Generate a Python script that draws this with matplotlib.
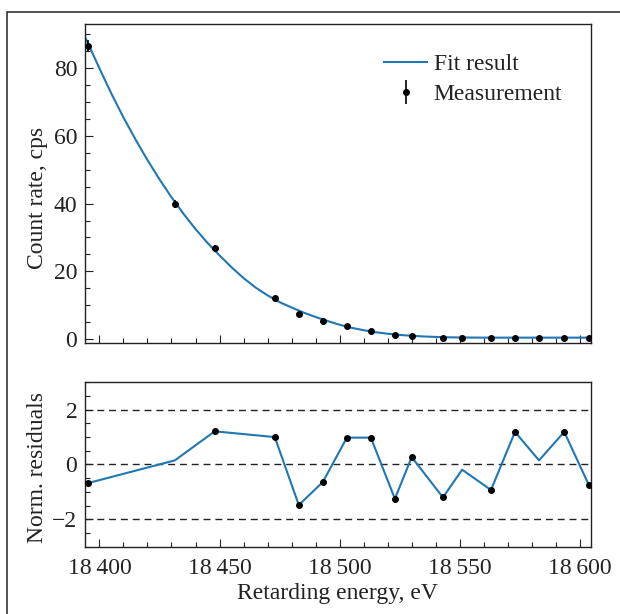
#!/usr/bin/env python3
import matplotlib
matplotlib.use("Agg")
import matplotlib.pyplot as plt
from matplotlib.ticker import MultipleLocator, FuncFormatter
from matplotlib.patches import Rectangle

# measured points (retarding energy in eV, count rate in cps)
energy = [18395.2, 18431.4, 18448.0, 18473.0, 18483.0, 18493.0, 18503.0, 18513.0,
          18523.0, 18530.0, 18543.0, 18551.0, 18563.0, 18573.0, 18583.0, 18593.5, 18603.7]
rate = [86.7, 40.0, 27.0, 12.2, 7.5, 5.2, 3.7, 2.3, 1.2, 0.9, 0.38, 0.42, 0.37,
        0.42, 0.38, 0.40, 0.37]
rate_err = [1.6, 1.2, 0.8, 0.5, 0.4, 0.35, 0.3, 0.25, 0.2, 0.15, 0.1, 0.1, 0.1,
            0.1, 0.1, 0.1, 0.1]

# fit curve
fit_energy = [18394, 18400, 18405, 18410, 18415, 18420, 18425, 18430, 18435, 18440,
              18445, 18450, 18455, 18460, 18465, 18470, 18475, 18480, 18485, 18490,
              18495, 18500, 18505, 18510, 18515, 18520, 18525, 18530, 18535, 18540,
              18545, 18550, 18560, 18570, 18580, 18590, 18600, 18605]
fit_rate = [89.3, 80.0, 72.5, 65.5, 59.0, 52.9, 47.2, 41.9, 37.0, 32.5,
            28.4, 24.7, 21.2, 18.0, 15.2, 12.9, 10.9, 9.3, 7.8, 6.5,
            5.3, 4.2, 3.3, 2.6, 2.0, 1.55, 1.2, 0.95, 0.75, 0.6,
            0.5, 0.45, 0.4, 0.4, 0.4, 0.4, 0.4, 0.4]

# normalised residuals, and which of them are drawn with a dot
resid = [-0.68, 0.15, 1.21, 1.0, -1.48, -0.64, 0.98, 0.98, -1.25, 0.27, -1.2,
         -0.19, -0.93, 1.19, 0.15, 1.19, -0.74]
resid_dot = [1, 0, 1, 1, 1, 1, 1, 1, 1, 1, 1, 0, 1, 1, 0, 1, 1]

BLUE = "#1f77b4"
INK = "#222222"

plt.rcParams["font.family"] = ["Liberation Serif", "DejaVu Serif"]
plt.rcParams["font.size"] = 17
plt.rcParams["text.color"] = INK
plt.rcParams["axes.labelcolor"] = INK
plt.rcParams["xtick.color"] = INK
plt.rcParams["ytick.color"] = INK
plt.rcParams["axes.edgecolor"] = INK
plt.rcParams["axes.linewidth"] = 1.0


def style_ticks(ax):
    ax.tick_params(which="both", direction="in", top=False, right=False, width=0.8)
    ax.tick_params(which="major", length=6)
    ax.tick_params(which="minor", length=3.5)
    ax.tick_params(axis="x", which="major", pad=8)
    ax.tick_params(axis="y", which="major", pad=5.5)
    ax.xaxis.set_major_locator(MultipleLocator(50))
    ax.xaxis.set_minor_locator(MultipleLocator(10))


fig = plt.figure(figsize=(6.2, 6.14), dpi=100)
ax1 = fig.add_axes([0.1371, 0.4409, 0.8156, 0.5200])
ax2 = fig.add_axes([0.1371, 0.1096, 0.8156, 0.2678], sharex=ax1)

# top panel
ax1.plot(fit_energy, fit_rate, color=BLUE, lw=1.5, label="Fit result", zorder=2)
ax1.errorbar(energy, rate, yerr=rate_err, fmt="o", color="black", ms=4,
             elinewidth=1.2, capsize=0, label="Measurement", zorder=3)
ax1.set_xlim(18394, 18604.5)
ax1.set_ylim(-1.27, 93.1)
ax1.yaxis.set_major_locator(MultipleLocator(20))
ax1.yaxis.set_minor_locator(MultipleLocator(5))
style_ticks(ax1)
ax1.tick_params(labelbottom=False)
ax1.set_ylabel("Count rate, cps")
ax1.yaxis.set_label_coords(-0.074, 0.456)
ax1.legend(loc="upper right", bbox_to_anchor=(0.986, 0.975), frameon=False,
           handlelength=1.8, handletextpad=0.3, labelspacing=0.38)

# bottom panel
for lvl in (-2, 0, 2):
    ax2.axhline(lvl, color=INK, lw=1.0, dashes=(5, 3.5), zorder=1)
ax2.plot(energy, resid, color=BLUE, lw=1.5, zorder=2)
ax2.plot([e for e, d in zip(energy, resid_dot) if d],
         [r for r, d in zip(resid, resid_dot) if d],
         "o", color="black", ms=4, zorder=3)
ax2.set_ylim(-3, 3)
ax2.yaxis.set_major_locator(MultipleLocator(2))
ax2.yaxis.set_minor_locator(MultipleLocator(0.5))
style_ticks(ax2)
ax2.xaxis.set_major_formatter(FuncFormatter(
    lambda v, p: f"{int(v):,}".replace(",", "\u2009")))
ax2.set_ylabel("Norm. residuals")
ax2.yaxis.set_label_coords(-0.074, 0.48)
ax2.set_xlabel("Retarding energy, eV", labelpad=3)

# outer frame around the figure
fig.add_artist(Rectangle((7.3 / 620, -0.1), 1.2, 1.1 - 11.7 / 614,
                         transform=fig.transFigure, fill=False,
                         edgecolor="#333333", lw=1.2))

fig.savefig("out.png", dpi=100)
